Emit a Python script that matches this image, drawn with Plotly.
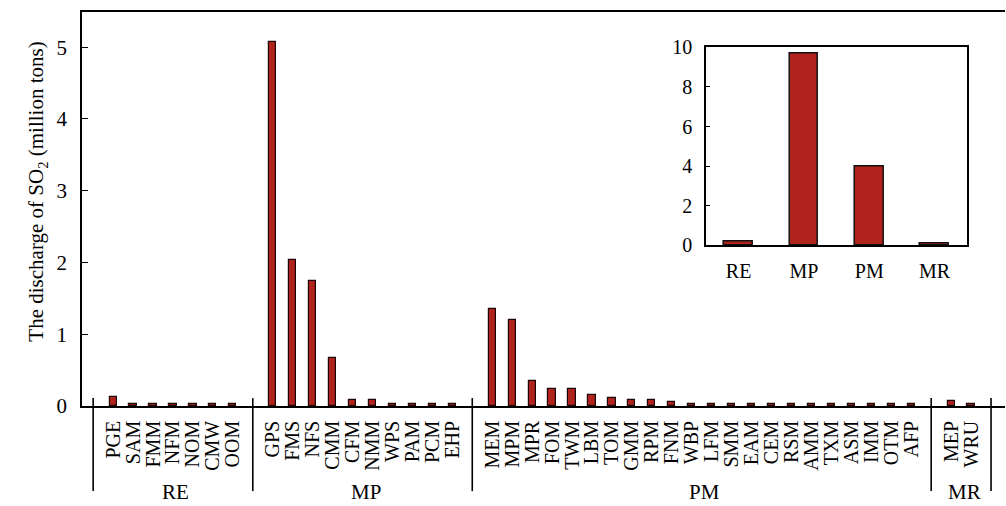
import plotly.graph_objects as go

# SO2 discharge per sector (million tons), grouped by industry chain stage
groups = ["RE", "MP", "PM", "MR"]

re_codes = ["PGE", "SAM", "FMM", "NFM", "NOM", "CMW", "OOM"]
re_values = [0.12, 0.03, 0.03, 0.03, 0.03, 0.03, 0.03]

mp_codes = ["GPS", "FMS", "NFS", "CMM", "CFM", "NMM", "WPS", "PAM", "PCM", "EHP"]
mp_values = [5.07, 2.04, 1.74, 0.67, 0.09, 0.09, 0.03, 0.03, 0.03, 0.03]

pm_codes = ["MEM", "MPM", "MPR", "FOM", "TWM", "LBM", "TOM", "GMM", "RPM", "FNM",
            "WBP", "LFM", "SMM", "EAM", "CEM", "RSM", "AMM", "TXM", "ASM", "IMM",
            "OTM", "AFP"]
pm_values = [1.35, 1.20, 0.35, 0.24, 0.24, 0.16, 0.115, 0.09, 0.09, 0.06,
             0.03, 0.03, 0.03, 0.03, 0.03, 0.03, 0.03, 0.03, 0.03, 0.03,
             0.03, 0.03]

mr_codes = ["MEP", "WRU"]
mr_values = [0.065, 0.03]

# Group totals shown in the inset
total_values = [0.2, 9.7, 4.0, 0.1]

FONT = "Liberation Serif"
FILL = "#B0221C"
EDGE = "#1c0606"

group_codes = [re_codes, mp_codes, pm_codes, mr_codes]
group_values = [re_values, mp_values, pm_values, mr_values]

# Lay the sectors out on a numeric axis, leaving one empty slot between groups
xs, labels, vals = [], [], []
bounds = [0.0]
centers = []
pos = 1
for codes, values in zip(group_codes, group_values):
    start = pos
    for c, v in zip(codes, values):
        xs.append(pos)
        labels.append(c)
        vals.append(v)
        pos += 1
    centers.append((start + pos - 1) / 2)
    bounds.append(pos)
    pos += 1

fig = go.Figure()

fig.add_trace(go.Bar(
    x=xs, y=vals, width=0.36,
    marker=dict(color=FILL, line=dict(color=EDGE, width=1.2)),
    xaxis="x", yaxis="y", showlegend=False,
))

fig.add_trace(go.Bar(
    x=groups, y=total_values, width=0.44,
    marker=dict(color=FILL, line=dict(color="#111111", width=1.5)),
    xaxis="x2", yaxis="y2", showlegend=False,
))

shapes = []
for b in bounds:
    shapes.append(dict(type="line", xref="x", yref="paper",
                       x0=b, x1=b, y0=0.02, y1=-0.216,
                       line=dict(color="black", width=1.6)))

annotations = []
for g, c in zip(groups, centers):
    annotations.append(dict(x=c + 0.15, y=-0.218, xref="x", yref="paper",
                            text=g, showarrow=False, yanchor="middle",
                            font=dict(family=FONT, size=21, color="black")))

annotations.append(dict(
    x=-0.065, y=0.544, xref="paper", yref="paper",
    text="The discharge of SO<sub>2</sub> (million tons)",
    textangle=-90, showarrow=False,
    font=dict(family=FONT, size=21, color="black"),
))

fig.update_layout(
    width=1006, height=506,
    margin=dict(l=82, r=1, t=7, b=100),
    paper_bgcolor="white", plot_bgcolor="white",
    font=dict(family=FONT, size=20, color="black"),
    bargap=0,
    xaxis=dict(
        range=[-0.56, 45.7],
        tickmode="array", tickvals=xs, ticktext=labels,
        tickangle=-90, ticks="", ticklabelstandoff=5,
        tickfont=dict(family=FONT, size=20, color="black"),
        showline=True, linecolor="black", linewidth=1.6, mirror=True,
        showgrid=False, zeroline=False,
    ),
    yaxis=dict(
        range=[0, 5.49],
        tickvals=[0, 1, 2, 3, 4, 5],
        ticks="inside", ticklen=6, tickwidth=1.2, tickcolor="black",
        tickfont=dict(family=FONT, size=21, color="black"),
        ticklabelstandoff=9,
        showline=True, linecolor="black", linewidth=1.6,
        showgrid=False, zeroline=False,
    ),
    xaxis2=dict(
        domain=[0.676, 0.959], anchor="y2",
        range=[-0.5, 3.5], ticks="",
        tickfont=dict(family=FONT, size=20, color="black"),
        ticklabelstandoff=7,
        showline=True, linecolor="black", linewidth=1.6, mirror=True,
        showgrid=False, zeroline=False,
    ),
    yaxis2=dict(
        domain=[0.4085, 0.91], anchor="x2",
        range=[0, 10], tickvals=[0, 2, 4, 6, 8, 10],
        ticks="inside", ticklen=4, tickwidth=1.2, tickcolor="black",
        tickfont=dict(family=FONT, size=20, color="black"),
        ticklabelstandoff=8,
        showline=True, linecolor="black", linewidth=1.6, mirror=True,
        showgrid=False, zeroline=False,
    ),
    shapes=shapes,
    annotations=annotations,
)

fig.write_html("out.html")
